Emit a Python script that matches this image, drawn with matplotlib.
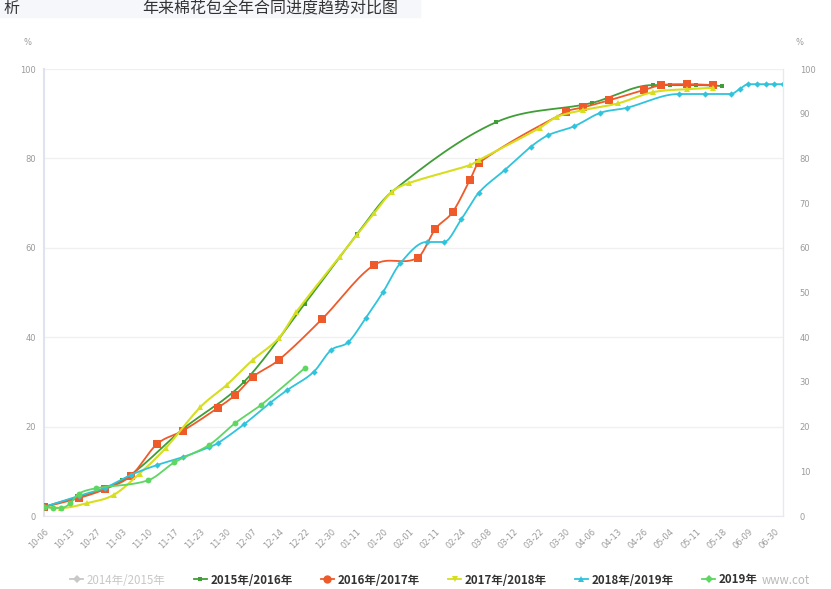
import numpy as np
import matplotlib
matplotlib.use("Agg")
import matplotlib.pyplot as plt
from matplotlib.lines import Line2D

plt.rcParams['font.family'] = ['Noto Sans CJK SC', 'DejaVu Sans']

# ---------------- data ----------------
categories = [
    "10-06", "10-08", "10-10", "10-13", "10-17", "10-20", "10-27", "10-29", "10-31", "11-03",
    "11-06", "11-08", "11-10", "11-13", "11-15", "11-17", "11-20", "11-21", "11-23", "11-26",
    "11-28", "11-30", "12-02", "12-05", "12-07", "12-09", "12-12", "12-14", "12-16", "12-19",
    "12-22", "12-24", "12-27", "12-30", "01-04", "01-08", "01-11", "01-13", "01-17", "01-20",
    "01-24", "01-27", "02-01", "02-05", "02-08", "02-11", "02-15", "02-20", "02-24", "03-01",
    "03-05", "03-08", "03-09", "03-10", "03-12", "03-15", "03-19", "03-22", "03-25", "03-27",
    "03-30", "04-01", "04-03", "04-06", "04-08", "04-10", "04-13", "04-17", "04-22", "04-26",
    "04-28", "05-01", "05-04", "05-06", "05-08", "05-11", "05-13", "05-15", "05-18", "05-24",
    "05-31", "06-09", "06-14", "06-19", "06-30", "07-05",
]

s1516_dates = ["10-06", "11-03", "11-20", "12-05", "12-22", "01-11", "01-24", "03-09",
               "04-06", "04-28", "05-04", "05-11", "05-18"]
s1516_vals = [2.0, 8.0, 19.5, 30.0, 47.5, 63.0, 72.5, 88.1, 92.4, 96.4, 96.4, 96.4, 96.2]

s1617_dates = ["10-06", "10-17", "10-29", "11-06", "11-13", "11-20", "11-28", "12-02",
               "12-07", "12-14", "12-27", "01-17", "02-05", "02-11", "02-20", "03-01",
               "03-05", "03-30", "04-03", "04-10", "04-26", "05-01", "05-08", "05-15"]
s1617_vals = [2.0, 4.0, 6.0, 9.0, 16.1, 19.1, 24.2, 27.1, 31.1, 34.9, 44.1, 56.2, 57.8,
              64.2, 68.0, 75.2, 79.0, 90.4, 91.4, 93.0, 95.3, 96.4, 96.6, 96.4]

s1718_dates = ["10-06", "10-10", "10-20", "10-31", "11-08", "11-15", "11-23", "11-30",
               "12-07", "12-14", "12-19", "01-04", "01-11", "01-17", "01-24", "02-01",
               "03-01", "03-05", "03-22", "03-27", "04-03", "04-13", "04-28", "05-08", "05-15"]
s1718_vals = [2.0, 1.8, 2.9, 4.7, 9.5, 15.2, 24.4, 29.3, 34.9, 39.8, 45.6, 58.0, 62.9,
              67.8, 72.5, 74.5, 78.5, 79.6, 86.8, 89.3, 90.8, 92.3, 94.8, 95.5, 95.8]

s1819_dates = ["10-06", "10-17", "10-29", "11-06", "11-13", "11-20", "11-26", "11-28",
               "12-05", "12-12", "12-16", "12-24", "12-30", "01-08", "01-13", "01-20",
               "01-27", "02-08", "02-15", "02-24", "03-05", "03-10", "03-19", "03-25",
               "04-01", "04-08", "04-17", "05-06", "05-13", "05-24", "05-31", "06-09",
               "06-14", "06-19", "06-30", "07-05"]
s1819_vals = [2.0, 4.5, 6.3, 9.2, 11.4, 13.2, 15.4, 16.3, 20.5, 25.3, 28.2, 32.2, 37.1,
              38.9, 44.3, 50.1, 56.6, 61.3, 61.3, 66.4, 72.3, 77.4, 82.6, 85.2, 87.2,
              90.2, 91.3, 94.4, 94.4, 94.4, 95.5, 96.6, 96.6, 96.6, 96.6, 96.6]

s2019_dates = ["10-06", "10-08", "10-10", "10-13", "10-17", "10-27", "11-10", "11-17",
               "11-26", "12-02", "12-09", "12-22"]
s2019_vals = [2.0, 1.8, 1.8, 2.8, 5.0, 6.2, 8.0, 12.0, 15.9, 20.8, 24.9, 33.1]

legend_labels = ["2014年/2015年", "2015年/2016年", "2016年/2017年",
                 "2017年/2018年", "2018年/2019年", "2019年"]

# ---------------- helpers ----------------
def smooth_path(xs, ys, n=16):
    """Cardinal-spline rendering of a polyline (visual smoothing, like smooth:true)."""
    xs = np.asarray(xs, float)
    ys = np.asarray(ys, float)
    if len(xs) < 3:
        return xs, ys
    m = np.zeros_like(ys)
    m[0] = (ys[1] - ys[0]) / (xs[1] - xs[0])
    m[-1] = (ys[-1] - ys[-2]) / (xs[-1] - xs[-2])
    for i in range(1, len(xs) - 1):
        m[i] = (ys[i + 1] - ys[i - 1]) / (xs[i + 1] - xs[i - 1])
        d1 = ys[i] - ys[i - 1]
        d2 = ys[i + 1] - ys[i]
        if d1 * d2 <= 0:
            m[i] = 0.0
    ox, oy = [], []
    for i in range(len(xs) - 1):
        h = xs[i + 1] - xs[i]
        t = np.linspace(0, 1, n, endpoint=False)
        h00 = 2 * t**3 - 3 * t**2 + 1
        h10 = t**3 - 2 * t**2 + t
        h01 = -2 * t**3 + 3 * t**2
        h11 = t**3 - t**2
        ox.extend(xs[i] + t * h)
        oy.extend(h00 * ys[i] + h10 * h * m[i] + h01 * ys[i + 1] + h11 * h * m[i + 1])
    ox.append(xs[-1])
    oy.append(ys[-1])
    return np.array(ox), np.array(oy)

# ---------------- figure ----------------
fig = plt.figure(figsize=(8.31, 5.89), dpi=100)
fig.patch.set_facecolor("white")
ax = fig.add_axes([44 / 831, 1 - 516 / 589, 739 / 831, 447 / 589])

series = [
    (s1516_dates, s1516_vals, "#3f9e36", "s", 3.2, 1.3),
    (s1617_dates, s1617_vals, "#ef5a2a", "s", 6.0, 1.3),
    (s1718_dates, s1718_vals, "#d6de1e", "^", 4.0, 1.5),
    (s1819_dates, s1819_vals, "#2fc3dc", "D", 3.2, 1.3),
    (s2019_dates, s2019_vals, "#5dd662", "o", 4.2, 1.3),
]

for k, (dates, vals, col, mk, ms, lw) in enumerate(series):
    xi = [categories.index(d) for d in dates]
    sx, sy = smooth_path(xi, vals)
    ax.plot(sx, sy, color=col, lw=lw, zorder=3 + k, solid_capstyle="round")
    ax.plot(xi, vals, linestyle="none", marker=mk, markersize=ms, color=col,
            markeredgewidth=0, zorder=3 + k)

ax.set_xlim(0, len(categories) - 1)
ax.set_ylim(0, 100)
ax.set_xticks(range(0, len(categories), 3))
ax.set_xticklabels(categories[::3], rotation=45, ha="right", va="top",
                   rotation_mode="anchor", fontsize=6, color="#9a9a9a",
                   family="DejaVu Sans")
ax.set_yticks(range(0, 101, 20))
ax.set_yticklabels([str(v) for v in range(0, 101, 20)], fontsize=6, color="#9a9a9a",
                   family="DejaVu Sans")
ax.tick_params(axis="both", length=0, pad=6)
ax.tick_params(axis="x", pad=8)
ax.grid(axis="y", color="#f0f0f0", lw=1)
ax.set_axisbelow(True)
ax.spines["top"].set_visible(False)
ax.spines["left"].set_color("#dfe2ef")
ax.spines["left"].set_linewidth(1.5)
ax.spines["bottom"].set_color("#e8e8ee")
ax.spines["right"].set_color("#e8e8ee")

ax2 = ax.twinx()
ax2.set_ylim(0, 100)
ax2.set_yticks(range(0, 101, 10))
ax2.set_yticklabels([str(v) for v in range(0, 101, 10)], fontsize=6, color="#9a9a9a",
                    family="DejaVu Sans")
ax2.tick_params(axis="y", length=0, pad=12)
for side in ["top", "left", "bottom"]:
    ax2.spines[side].set_visible(False)
ax2.spines["right"].set_color("#e8e8ee")

ax.text(-16 / 739, 1 + 27 / 447, "%", transform=ax.transAxes, fontsize=6,
        color="#9a9a9a", ha="center", va="center", family="DejaVu Sans")
ax.text(1 + 17 / 739, 1 + 27 / 447, "%", transform=ax.transAxes, fontsize=6,
        color="#9a9a9a", ha="center", va="center", family="DejaVu Sans")

# ---------------- legend ----------------
leg_cols = ["#c8c8c8", "#3f9e36", "#ef5a2a", "#d6de1e", "#2fc3dc", "#5dd662"]
leg_mk = ["D", "s", "o", "v", "^", "D"]
leg_ms = [4, 3.5, 6, 5, 5, 4]
handles = [Line2D([0], [0], color=c, marker=m, markersize=s, lw=1.3, markeredgewidth=0)
           for c, m, s in zip(leg_cols, leg_mk, leg_ms)]
leg = fig.legend(handles, legend_labels, ncol=6, loc="center",
                 bbox_to_anchor=(414 / 831, 1 - 580 / 589), frameon=False,
                 handlelength=1.1, handletextpad=0.35, columnspacing=2.45,
                 prop={"size": 8.3, "weight": "bold"})
for i, t in enumerate(leg.get_texts()):
    t.set_color("#c8c8c8" if i == 0 else "#333333")
    if i == 0:
        t.set_fontweight("normal")

fig.text(762 / 831, 1 - 580 / 589, "www.cot", fontsize=8.3,
         color="#b8b8b8", ha="left", va="center")

# ---------------- title strip (top of the page) ----------------
fig.patches.append(plt.Rectangle((0, 1 - 17 / 589), 420 / 831, 17 / 589,
                                 transform=fig.transFigure, color="#f6f7fb", zorder=0))
fig.text(142 / 831, 1 - 8.5 / 589, "年来棉花包全年合同进度趋势对比图", fontsize=11.5,
         color="#333333", ha="left", va="center")
fig.text(3 / 831, 1 - 8.5 / 589, "析", fontsize=11.5, color="#333333", ha="left",
         va="center")

fig.savefig("out.png", dpi=100)
